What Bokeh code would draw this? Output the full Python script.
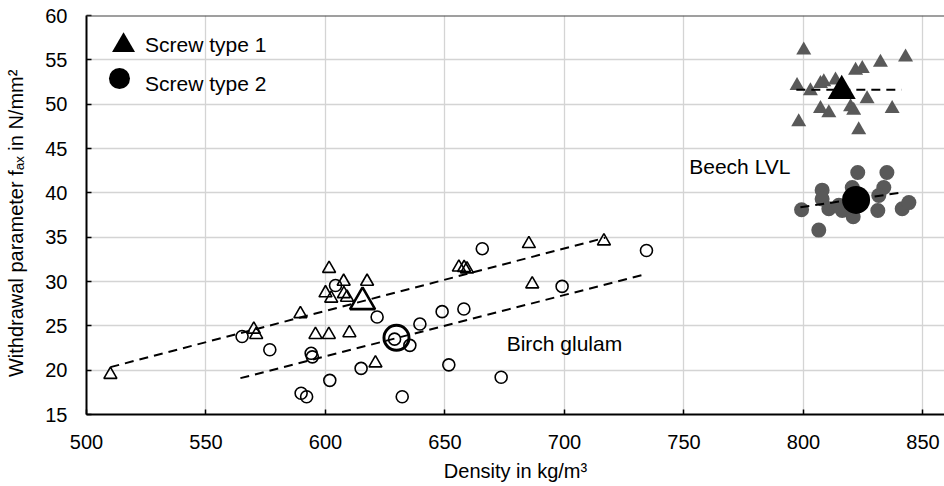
from bokeh.plotting import figure
from bokeh.models import FixedTicker, Span
from bokeh.core.properties import value
from bokeh.embed import file_html
from bokeh.resources import INLINE

FONT = "Liberation Sans"

# ---------------- data ----------------
# Birch glulam, screw type 1 (hollow triangles)
birch_t1_x = [510.0, 570.0, 571.0, 589.5, 595.8, 600.0, 601.5, 601.4, 602.4, 607.6,
              607.7, 609.0, 610.0, 617.4, 620.9, 655.8, 658.0, 659.2, 685.1, 686.5, 716.5]
birch_t1_y = [19.5, 24.6, 24.0, 26.35, 24.0, 28.7, 31.45, 24.0, 28.1, 30.0,
              28.6, 28.2, 24.2, 30.0, 20.8, 31.6, 31.55, 31.4, 34.25, 29.7, 34.55]
# Birch glulam, screw type 2 (hollow circles)
birch_t2_x = [565.1, 576.7, 594.0, 594.5, 589.8, 592.1, 601.8, 604.2, 621.6, 614.9,
              632.1, 628.9, 635.3, 639.5, 648.8, 657.9, 651.6, 665.6, 673.5, 699.0, 734.3]
birch_t2_y = [23.8, 22.3, 21.9, 21.5, 17.4, 17.0, 18.85, 29.55, 26.0, 20.2,
              17.0, 23.5, 22.8, 25.2, 26.6, 26.9, 20.6, 33.7, 19.2, 29.45, 33.5]
# Beech LVL, screw type 1 (grey triangles)
beech_t1_x = [800.1, 797.3, 802.9, 807.1, 808.5, 813.4, 821.8, 824.6, 832.2, 842.7,
              826.6, 837.1, 807.1, 810.6, 819.7, 821.0, 798.0, 823.1]
beech_t1_y = [56.1, 52.1, 51.5, 52.3, 52.5, 52.7, 53.8, 54.0, 54.7, 55.3,
              50.6, 49.5, 49.5, 49.0, 49.7, 49.3, 48.0, 47.1]
# Beech LVL, screw type 2 (grey circles)
beech_t2_x = [822.7, 834.9, 807.8, 807.8, 799.2, 810.6, 814.8, 816.2, 820.4, 820.8,
              833.6, 831.5, 831.1, 841.3, 844.1, 806.4]
beech_t2_y = [42.3, 42.3, 40.3, 39.3, 38.1, 38.2, 38.6, 38.0, 40.6, 37.3,
              40.6, 39.7, 38.0, 38.2, 38.9, 35.8]
# Mean values
birch_mean_t1 = (615.5, 27.7)
birch_mean_t2 = (629.7, 23.65)
beech_mean_t1 = (816.0, 51.5)
beech_mean_t2 = (822.0, 39.2)
# Trend lines (end points)
trend_birch_t1_x = [510.0, 717.0]
trend_birch_t1_y = [20.34, 34.93]
trend_birch_t2_x = [564.4, 734.6]
trend_birch_t2_y = [19.1, 30.87]
trend_beech_t1_x = [797.0, 841.0]
trend_beech_t1_y = [51.62, 51.62]
trend_beech_t2_x = [798.7, 842.0]
trend_beech_t2_y = [38.38, 40.07]

x_ticks = [500, 550, 600, 650, 700, 750, 800, 850]
y_ticks = [15, 20, 25, 30, 35, 40, 45, 50, 55, 60]

legend_labels = ["Screw type 1", "Screw type 2"]
annotations = [("Birch glulam", 675.8, 22.99), ("Beech LVL", 752.2, 43.0)]

GREY = "#595959"

p = figure(width=944, height=486, x_range=(500, 859), y_range=(15, 60),
           output_backend="svg", toolbar_location=None,
           min_border_left=86, min_border_right=0, min_border_top=15, min_border_bottom=72)
p.background_fill_color = "white"
p.border_fill_color = "white"
p.outline_line_color = None

for ax in (p.xaxis[0], p.yaxis[0]):
    ax.axis_line_color = "black"
    ax.axis_line_width = 2
    ax.major_tick_in = 5
    ax.major_tick_out = 0
    ax.major_tick_line_color = "black"
    ax.major_tick_line_width = 1.5
    ax.minor_tick_line_color = None
    ax.major_label_text_font = FONT
    ax.major_label_text_font_size = "20px"
    ax.major_label_text_color = "black"
    ax.axis_label_text_font = FONT
    ax.axis_label_text_font_size = "20px"
    ax.axis_label_text_font_style = "normal"
    ax.axis_label_text_color = "black"

p.xaxis.ticker = FixedTicker(ticks=x_ticks)
p.yaxis.ticker = FixedTicker(ticks=y_ticks)
p.xaxis.major_label_standoff = 20
p.yaxis.major_label_standoff = 19
p.xaxis.axis_label = "Density in kg/m\u00b3"
p.xaxis.axis_label_standoff = 8
# trailing no-break spaces shift the centred title slightly down, as in the reference
p.yaxis.axis_label = "Withdrawal parameter f\u2090\u2093 in N/mm\u00b2\u00a0\u00a0\u00a0"
p.yaxis.axis_label_standoff = 15

p.xgrid.ticker = FixedTicker(ticks=x_ticks)
p.ygrid.ticker = FixedTicker(ticks=y_ticks)
for g in (p.xgrid[0], p.ygrid[0]):
    g.grid_line_color = "#d4d4d4"
    g.grid_line_width = 1.3

p.add_layout(Span(location=60, dimension="width", line_color="#404040", line_width=2))

# Data markers
p.scatter(birch_t1_x, birch_t1_y, marker="triangle", size=13, fill_color=None,
          line_color="black", line_width=1.6)
p.scatter(birch_t2_x, birch_t2_y, marker="circle", size=12, fill_color=None,
          line_color="black", line_width=1.6)
p.scatter(beech_t1_x, beech_t1_y, marker="triangle", size=15, fill_color=GREY,
          line_color=None)
p.scatter(beech_t2_x, beech_t2_y, marker="circle", size=15, fill_color=GREY,
          line_color=None)

# Mean markers
p.scatter([birch_mean_t1[0]], [birch_mean_t1[1]], marker="triangle", size=25,
          fill_color=None, line_color="black", line_width=2.6)
p.scatter([birch_mean_t2[0]], [birch_mean_t2[1]], marker="circle", size=25,
          fill_color=None, line_color="black", line_width=3)
p.scatter([beech_mean_t1[0]], [beech_mean_t1[1]], marker="triangle", size=28,
          fill_color="black", line_color=None)
p.scatter([beech_mean_t2[0]], [beech_mean_t2[1]], marker="circle", size=28,
          fill_color="black", line_color=None)

# Trend lines
for tx, ty in ((trend_birch_t1_x, trend_birch_t1_y), (trend_birch_t2_x, trend_birch_t2_y),
               (trend_beech_t1_x, trend_beech_t1_y), (trend_beech_t2_x, trend_beech_t2_y)):
    p.line(tx, ty, line_color="black", line_width=2, line_dash="9 6")

# Legend (drawn manually to match the reference key sizes)
p.scatter([515.5], [56.62], marker="triangle", size=23, fill_color="black", line_color=None)
p.scatter([513.8], [52.9], marker="circle", size=21, fill_color="black", line_color=None)
p.text([524.5, 524.5], [56.7, 52.37], text=legend_labels, text_font=value(FONT),
       text_font_size="21px", text_color="black", text_baseline="alphabetic",
       text_align="left")

# Region annotations
p.text([a[1] for a in annotations], [a[2] for a in annotations],
       text=[a[0] for a in annotations], text_font=value(FONT), text_font_size="21px",
       text_color="black", text_baseline="alphabetic", text_align="left")

open("out.html", "w").write(file_html(p, INLINE))
